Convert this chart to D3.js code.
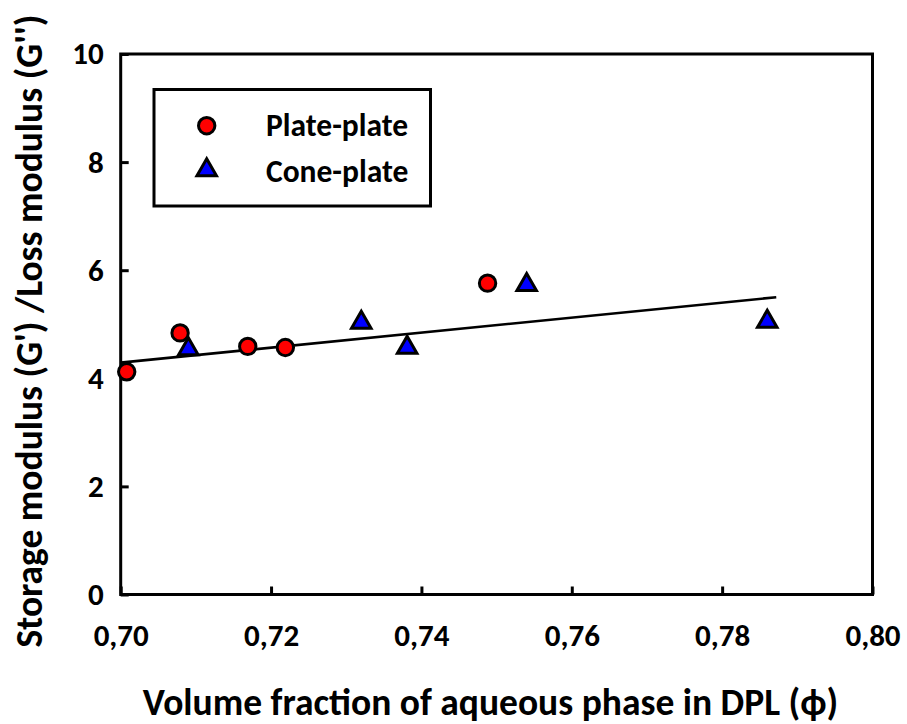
<!DOCTYPE html>
<html>
<head>
<meta charset="utf-8">
<script src="https://cdn.jsdelivr.net/npm/d3@7"></script>
<style>
  html, body { margin: 0; padding: 0; background: #fff; }
  svg { display: block; }
  text { font-family: Carlito, Lato, "Open Sans", sans-serif; font-weight: bold; fill: #000; }
</style>
</head>
<body>
<svg id="chart" width="907" height="724"></svg>
<script>
// Plate-plate measurements: volume fraction vs G'/G''
const plateX = [0.7008, 0.7079, 0.7169, 0.7219, 0.7488];
const plateY = [4.12, 4.84, 4.59, 4.57, 5.76];

// Cone-plate measurements
const coneX = [0.7090, 0.7320, 0.7381, 0.7540, 0.7860];
const coneY = [4.54, 5.03, 4.57, 5.73, 5.05];

// Linear trend line end points
const trendX = [0.700, 0.7872];
const trendY = [4.29, 5.50];

const xTicks = [0.70, 0.72, 0.74, 0.76, 0.78, 0.80];
const yTicks = [0, 2, 4, 6, 8, 10];

const seriesNames = ["Plate-plate", "Cone-plate"];

const svg = d3.select("#chart");
const plotL = 120.7, plotR = 872.5, plotT = 54, plotB = 594.5;

const x = d3.scaleLinear().domain([0.70, 0.80]).range([plotL, plotR]);
const y = d3.scaleLinear().domain([0, 10]).range([plotB, plotT]);

const fmtX = v => d3.format(".2f")(v).replace(".", ",");

// Frame
svg.append("rect")
  .attr("x", plotL).attr("y", plotT)
  .attr("width", plotR - plotL).attr("height", plotB - plotT)
  .attr("fill", "none").attr("stroke", "#000").attr("stroke-width", 3);

// Axes with inward ticks
const xAxis = d3.axisBottom(x).tickValues(xTicks).tickSize(-8).tickPadding(29).tickFormat(fmtX);
const gx = svg.append("g").attr("transform", `translate(0,${plotB})`).call(xAxis);
gx.select(".domain").remove();
gx.selectAll(".tick line").attr("stroke", "#000").attr("stroke-width", 3);
gx.selectAll(".tick text").attr("font-size", 31).attr("dy", "0.71em");

const yAxis = d3.axisLeft(y).tickValues(yTicks).tickSize(-8).tickPadding(17).tickFormat(d3.format("d"));
const gy = svg.append("g").attr("transform", `translate(${plotL},0)`).call(yAxis);
gy.select(".domain").remove();
gy.selectAll(".tick line").attr("stroke", "#000").attr("stroke-width", 3);
gy.selectAll(".tick text").attr("font-size", 31);

// Trend line
svg.append("line")
  .attr("x1", x(trendX[0])).attr("y1", y(trendY[0]))
  .attr("x2", x(trendX[1])).attr("y2", y(trendY[1]))
  .attr("stroke", "#000").attr("stroke-width", 2.6);

const circle = d3.symbol().type(d3.symbolCircle).size(Math.PI * 8.2 * 8.2);
const tri = d3.symbol().type(d3.symbolTriangle).size(165);

// Cone-plate triangles
svg.append("g").selectAll("path").data(coneX.map((v, i) => [v, coneY[i]])).join("path")
  .attr("d", tri)
  .attr("transform", d => `translate(${x(d[0])},${y(d[1])})`)
  .attr("fill", "#0000ff").attr("stroke", "#000").attr("stroke-width", 3).attr("stroke-linejoin", "miter");

// Plate-plate circles
svg.append("g").selectAll("path").data(plateX.map((v, i) => [v, plateY[i]])).join("path")
  .attr("d", circle)
  .attr("transform", d => `translate(${x(d[0])},${y(d[1])})`)
  .attr("fill", "#ff0000").attr("stroke", "#000").attr("stroke-width", 3);

// Legend
const lg = svg.append("g");
lg.append("rect").attr("x", 154).attr("y", 89.5).attr("width", 276.5).attr("height", 116.5)
  .attr("fill", "#fff").attr("stroke", "#000").attr("stroke-width", 3);
lg.append("path").attr("d", circle).attr("transform", "translate(206.7,125.7)")
  .attr("fill", "#ff0000").attr("stroke", "#000").attr("stroke-width", 3);
lg.append("path").attr("d", tri).attr("transform", "translate(206.7,170)")
  .attr("fill", "#0000ff").attr("stroke", "#000").attr("stroke-width", 3);
lg.append("text").attr("x", 266).attr("y", 136).attr("font-size", 31.5).text(seriesNames[0]);
lg.append("text").attr("x", 266).attr("y", 182).attr("font-size", 31.5).text(seriesNames[1]);

// Axis titles
svg.append("text").attr("x", 490.5).attr("y", 715).attr("text-anchor", "middle")
  .attr("font-size", 37.5).text("Volume fraction of aqueous phase in DPL (ϕ)");
svg.append("text").attr("transform", "translate(42,331) rotate(-90)").attr("text-anchor", "middle")
  .attr("font-size", 37.5).text("Storage modulus (G') /Loss modulus (G'')");
</script>
</body>
</html>
